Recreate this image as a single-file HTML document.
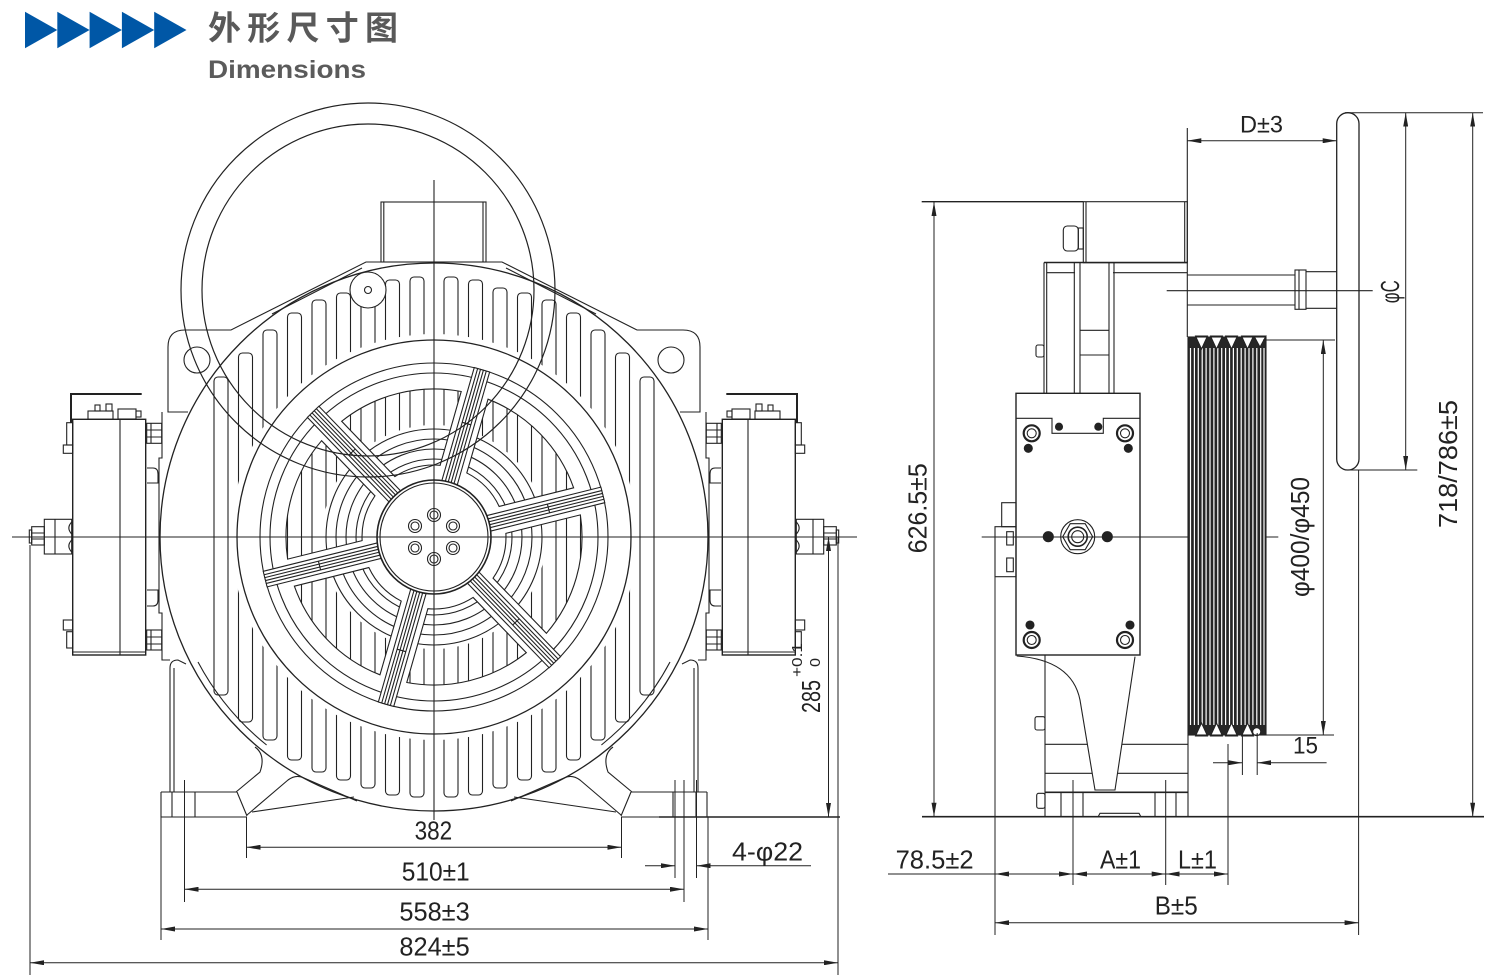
<!DOCTYPE html>
<html><head><meta charset="utf-8"><style>html,body{margin:0;padding:0;background:#fff}svg{display:block}</style></head>
<body>
<svg width="1491" height="977" viewBox="0 0 1491 977" xmlns="http://www.w3.org/2000/svg" xmlns:xlink="http://www.w3.org/1999/xlink">
<defs>
<marker id="ar" viewBox="0 0 14 5" refX="14" refY="2.5" markerWidth="14" markerHeight="5" markerUnits="userSpaceOnUse" orient="auto-start-reverse"><path d="M0,0 L14,2.5 L0,5 Z" fill="#222"/></marker>
<path id="win" d="M68.1,-23.3 L134.6,-61.6 A148,148 0 0 1 134.6,61.6 L68.1,23.3 A72,72 0 0 0 68.1,-23.3 Z"/>
<g id="spoke"><rect x="56" y="-8" width="118" height="16" fill="#fff"/><path d="M56,-4.5 H174 M56,-1.5 H174 M56,1.5 H174 M56,4.5 H174 M118,-4.5 V4.5" fill="none"/></g>
<mask id="wm">
<rect x="0" y="0" width="1491" height="977" fill="#000"/>
<circle cx="434" cy="537" r="203" fill="#fff"/>
<g fill="#000">
<use xlink:href="#win" transform="translate(434,537) rotate(-44)"/>
<use xlink:href="#win" transform="translate(434,537) rotate(16)"/>
<use xlink:href="#win" transform="translate(434,537) rotate(76)"/>
<use xlink:href="#win" transform="translate(434,537) rotate(136)"/>
<use xlink:href="#win" transform="translate(434,537) rotate(196)"/>
<use xlink:href="#win" transform="translate(434,537) rotate(-104)"/>
</g>
</mask>
<g id="lh" fill="none" stroke="#222" stroke-width="1.1">
<rect x="410" y="277" width="14" height="520" rx="4"/>
<rect x="385.5" y="280" width="14" height="515" rx="4"/>
<rect x="361" y="288" width="14" height="500" rx="4"/>
<rect x="336.5" y="293" width="14" height="487" rx="4"/>
<rect x="312" y="300" width="14" height="472" rx="4"/>
<rect x="287.5" y="313" width="14" height="447" rx="4"/>
<rect x="263" y="330" width="14" height="410" rx="4"/>
<rect x="238.5" y="353" width="14" height="369" rx="4"/>
<rect x="214" y="377" width="14" height="318" rx="4"/>
<path d="M434,262 L366,262 L231,330 L185,330 Q168,330 168,347 L168,412 L188,412"/>
<path d="M362,268 L272,314"/>
<circle cx="197" cy="360" r="13"/>
<path d="M162,412 L162,458 L159,458 L159,613 L162,613 L162,660 L170,660"/>
<path d="M147,468 L153,468 Q158,468 158,474 L158,483 L147,483"/>
<path d="M147,606 L153,606 Q158,606 158,600 L158,590 L147,590"/>
<path d="M170,792 L170,668 Q170,660 178,660 L186,664"/>
<path d="M174,792 L174,668"/>
<path d="M198,662 A267,267 0 0 0 266.6,745"/>
<path d="M255,747 Q266,755 260,772 L236,792"/>
<path d="M161,792 L237,792 M161,792 L161,817 L247,817 M237,792 L247,816"/>
<path d="M172,792 L172,817 M195,792 L195,817"/>
<path d="M247,815 L288,780 Q296,774 304,778 L357,801"/>
<path d="M252,812 L354,797"/>
<rect x="72.7" y="419.3" width="73" height="235.7" stroke-width="1.4"/>
<line x1="120" y1="419.3" x2="120" y2="655"/>
<line x1="72.7" y1="652" x2="145.7" y2="652"/>
<path d="M71,423 L71,394 L141.7,394" stroke-width="2"/>
<rect x="88" y="411" width="25" height="8.3"/>
<rect x="118" y="409" width="18" height="10"/>
<rect x="136" y="411" width="5" height="6"/>
<rect x="95" y="405" width="5" height="6"/>
<rect x="106" y="404" width="6" height="7"/>
<rect x="66.7" y="422.7" width="6" height="22.3"/>
<rect x="63.3" y="445" width="9.4" height="8.3"/>
<rect x="63.3" y="620" width="9.4" height="10"/>
<rect x="66.7" y="631.7" width="6" height="16.3"/>
<rect x="146.7" y="423.3" width="15" height="20"/>
<path d="M151,423.3 V443.3 M146.7,430 H161.7 M146.7,437 H161.7"/>
<rect x="146.7" y="630" width="15" height="20"/>
<path d="M151,630 V650 M146.7,637 H161.7 M146.7,644 H161.7"/>
<rect x="44.3" y="519.3" width="27.4" height="34.7"/>
<line x1="55" y1="519.3" x2="55" y2="554"/>
<path d="M71.7,522 Q66,528 71.7,534 M71.7,540 Q66,546 71.7,552"/>
<rect x="31.7" y="526.7" width="12.6" height="18.3"/>
<path d="M31.7,533 H44.3 M31.7,539 H44.3"/>
<rect x="29.3" y="530" width="2.4" height="13"/>
</g>
</defs>

<!-- header -->
<g fill="#0057a6">
<polygon points="25,11.7 57.3,30 25,48.3"/>
<polygon points="57.3,11.7 89.6,30 57.3,48.3"/>
<polygon points="89.6,11.7 121.9,30 89.6,48.3"/>
<polygon points="121.9,11.7 154.2,30 121.9,48.3"/>
<polygon points="154.2,11.7 186.5,30 154.2,48.3"/>
</g>
<text x="208" y="39.5" font-family="'Liberation Sans','Noto Sans CJK SC',sans-serif" font-size="33" font-weight="bold" fill="#595959" textLength="190" lengthAdjust="spacing">外形尺寸图</text>
<text x="208" y="78" font-family="'Liberation Sans',sans-serif" font-size="25" font-weight="bold" fill="#5b5b5b" textLength="158" lengthAdjust="spacingAndGlyphs">Dimensions</text>

<!-- FRONT VIEW -->
<use xlink:href="#lh"/>
<use xlink:href="#lh" transform="translate(868,0) scale(-1,1)"/>
<g fill="none" stroke="#222" stroke-width="1.1">
<circle cx="434" cy="537" r="274" stroke-width="1.3"/>
<rect x="381" y="202" width="105" height="60" fill="#fff"/>
<path d="M383.8,202 V262 M483,202 V262"/>
<circle cx="434" cy="537" r="112" fill="#fff" stroke="none"/>
<circle cx="434" cy="537" r="78"/>
<circle cx="434" cy="537" r="88"/>
<circle cx="434" cy="537" r="98"/>
<circle cx="434" cy="537" r="108"/>
</g>
<rect x="0" y="0" width="1491" height="977" fill="#fff" mask="url(#wm)"/>
<g fill="none" stroke="#222" stroke-width="1.1">
<use xlink:href="#win" transform="translate(434,537) rotate(-44)"/>
<use xlink:href="#win" transform="translate(434,537) rotate(16)"/>
<use xlink:href="#win" transform="translate(434,537) rotate(76)"/>
<use xlink:href="#win" transform="translate(434,537) rotate(136)"/>
<use xlink:href="#win" transform="translate(434,537) rotate(196)"/>
<use xlink:href="#win" transform="translate(434,537) rotate(-104)"/>
<circle cx="434" cy="537" r="197" stroke-width="1.3"/>
<circle cx="434" cy="537" r="174"/>
<circle cx="434" cy="537" r="164"/>
<use xlink:href="#spoke" transform="translate(434,537) rotate(-74)"/>
<use xlink:href="#spoke" transform="translate(434,537) rotate(-14)"/>
<use xlink:href="#spoke" transform="translate(434,537) rotate(46)"/>
<use xlink:href="#spoke" transform="translate(434,537) rotate(106)"/>
<use xlink:href="#spoke" transform="translate(434,537) rotate(166)"/>
<use xlink:href="#spoke" transform="translate(434,537) rotate(-134)"/>
<circle cx="434" cy="537" r="57" fill="#fff" stroke-width="1.6"/>
<circle cx="434" cy="537" r="54"/>
<g>
<circle cx="434" cy="515" r="6.5"/><circle cx="434" cy="515" r="4"/>
<circle cx="453" cy="526" r="6.5"/><circle cx="453" cy="526" r="4"/>
<circle cx="453" cy="548" r="6.5"/><circle cx="453" cy="548" r="4"/>
<circle cx="434" cy="559" r="6.5"/><circle cx="434" cy="559" r="4"/>
<circle cx="415" cy="548" r="6.5"/><circle cx="415" cy="548" r="4"/>
<circle cx="415" cy="526" r="6.5"/><circle cx="415" cy="526" r="4"/>
</g>
<circle cx="368" cy="290" r="187" stroke-width="1.2"/>
<circle cx="368" cy="290" r="166" stroke-width="1.2"/>
<circle cx="368" cy="290" r="18" fill="#fff"/>
<circle cx="368" cy="290" r="3.5"/>
<!-- centerlines -->
<line x1="12" y1="537" x2="857" y2="537"/>
<line x1="434" y1="180" x2="434" y2="820"/>
</g>

<!-- front dims -->
<g fill="none" stroke="#222" stroke-width="1">
<path d="M246.5,817 V858 M621.5,817 V858"/>
<line x1="246.5" y1="847.3" x2="621.5" y2="847.3" marker-start="url(#ar)" marker-end="url(#ar)"/>
<path d="M184.5,780 V902 M684,780 V902"/>
<line x1="184.5" y1="889.3" x2="684" y2="889.3" marker-start="url(#ar)" marker-end="url(#ar)"/>
<path d="M161,817 V940 M708,817 V940"/>
<line x1="161" y1="929" x2="708" y2="929" marker-start="url(#ar)" marker-end="url(#ar)"/>
<path d="M30,545 V975 M838,537 V975"/>
<line x1="30" y1="962.7" x2="838" y2="962.7" marker-start="url(#ar)" marker-end="url(#ar)"/>
<path d="M675,780 V878 M696.5,780 V878"/>
<line x1="645" y1="865.7" x2="675" y2="865.7" marker-end="url(#ar)"/>
<line x1="811" y1="865.7" x2="696.5" y2="865.7" marker-end="url(#ar)"/>
<line x1="659" y1="817" x2="840" y2="817" stroke-width="1.4"/>
<line x1="828.5" y1="537" x2="828.5" y2="817" marker-start="url(#ar)" marker-end="url(#ar)"/>
</g>
<g font-family="'Liberation Sans Narrow','Liberation Sans',sans-serif" font-size="26" fill="#222">
<text x="414.6" y="839.3" textLength="37.6" lengthAdjust="spacingAndGlyphs">382</text>
<text x="401.7" y="880.7" textLength="68" lengthAdjust="spacingAndGlyphs">510±1</text>
<text x="399.4" y="920.7" textLength="70.3" lengthAdjust="spacingAndGlyphs">558±3</text>
<text x="399.4" y="955.3" textLength="70.3" lengthAdjust="spacingAndGlyphs">824±5</text>
<text x="732" y="860.7" textLength="71" lengthAdjust="spacingAndGlyphs">4-φ22</text>
<text transform="translate(820,713) rotate(-90)" textLength="33" lengthAdjust="spacingAndGlyphs">285</text>
<text transform="translate(802,677) rotate(-90)" font-size="15" textLength="34" lengthAdjust="spacingAndGlyphs">+0.1</text>
<text transform="translate(820,667) rotate(-90)" font-size="15" textLength="9" lengthAdjust="spacingAndGlyphs">0</text>
</g>

<!-- SIDE VIEW -->
<g fill="none" stroke="#222" stroke-width="1.1">
<line x1="921.7" y1="201.7" x2="1083.3" y2="201.7" stroke-width="1.3"/>
<rect x="1083.3" y="201.7" width="104" height="61"/>
<path d="M1086,201.7 V262.3 M1184.7,201.7 V262.3"/>
<rect x="1063.3" y="226" width="15" height="25" rx="4"/>
<rect x="1078.3" y="228" width="5" height="21"/>
<line x1="1044" y1="262.5" x2="1187.3" y2="262.5" stroke-width="1.6"/>
<path d="M1046.7,272.7 H1075 M1113,272.7 H1187.3"/>
<path d="M1044,262.5 V393.3 M1046.7,262.5 V393.3 M1074.3,262.5 V393.3 M1080,262.5 V393.3 M1109,262.5 V393.3 M1114,262.5 V393.3"/>
<path d="M1080,330.3 H1109 M1080,355 H1109"/>
<rect x="1036" y="345" width="8" height="12" rx="2"/>
<line x1="1187.3" y1="128" x2="1187.3" y2="337"/>
<path d="M1187.3,275 H1295 M1187.3,305 H1295"/>
<rect x="1295" y="270" width="11" height="39.3"/>
<line x1="1299" y1="270" x2="1299" y2="309.3"/>
<path d="M1306,271.7 H1336.7 M1306,308.3 H1336.7"/>
<rect x="1336.7" y="112.7" width="22.3" height="357.3" rx="11" stroke-width="1.3"/>
<line x1="1166.7" y1="290.7" x2="1372.7" y2="290.7"/>
<!-- plate -->
<rect x="1016" y="393.3" width="124" height="261.7" stroke-width="1.4" fill="#fff"/>
<path d="M1016,418.3 H1052 V433.3 H1103.3 V418.3 H1140"/>
<rect x="995" y="526.7" width="21" height="50"/>
<rect x="1001.7" y="502.7" width="14.3" height="24"/>
<rect x="1006.7" y="531.7" width="6.6" height="13.3"/>
<rect x="1006.7" y="558" width="6.6" height="13.7"/>
<g stroke-width="2.2">
<circle cx="1031.7" cy="433.3" r="8"/><circle cx="1125" cy="433.3" r="8"/>
<circle cx="1031.7" cy="640" r="8"/><circle cx="1125" cy="640" r="8"/>
</g>
<circle cx="1031.7" cy="433.3" r="4.5"/><circle cx="1125" cy="433.3" r="4.5"/>
<circle cx="1031.7" cy="640" r="4.5"/><circle cx="1125" cy="640" r="4.5"/>
<g fill="#222">
<circle cx="1028.3" cy="448.3" r="4"/><circle cx="1128.3" cy="448.3" r="4"/>
<circle cx="1030" cy="625" r="4"/><circle cx="1130" cy="625" r="4"/>
<circle cx="1059" cy="426.7" r="3.5"/><circle cx="1098.3" cy="426.7" r="3.5"/>
<circle cx="1048.3" cy="536.7" r="5"/><circle cx="1107.3" cy="536.7" r="5"/>
</g>
<circle cx="1077.7" cy="536.7" r="17"/>
<polygon points="1092.7,536.7 1085.2,549.7 1070.2,549.7 1062.7,536.7 1070.2,523.7 1085.2,523.7"/>
<circle cx="1077.7" cy="536.7" r="9.5" stroke-width="1.6"/>
<circle cx="1077.7" cy="536.7" r="6"/>
<!-- lower bracket -->
<path d="M1045,655 V817"/>
<path d="M1016.7,656 Q1072,660 1080,700 L1095,790 H1115 L1135,656.7"/>
<path d="M1045,744.3 H1087.4 M1121.9,744.3 H1188 M1045,773.3 H1092.2 M1117.5,773.3 H1188"/>
<line x1="1045" y1="792.3" x2="1188" y2="792.3" stroke-width="1.6"/>
<path d="M1188,735 V817"/>
<path d="M1061,792 V817 M1083,792 V817 M1155,792 V817 M1176,792 V817"/>
<path d="M1098,817 L1100,813.3 H1139 L1141,817"/>
<rect x="1035" y="716.7" width="10" height="13.3" rx="2"/>
<rect x="1036.7" y="793.3" width="8.3" height="15" rx="2"/>
<line x1="981.7" y1="537" x2="1278.3" y2="537"/>
</g>
<!-- pulley -->
<rect x="1188" y="337" width="78" height="398" fill="#262626"/>
<g stroke="#fff" stroke-width="1.2">
<path d="M1190.5,348 V725 M1194.4,348 V725 M1198.3,348 V725 M1202.2,348 V725 M1206.1,348 V725 M1210,348 V725 M1213.9,348 V725 M1217.8,348 V725 M1221.7,348 V725 M1225.6,348 V725 M1229.5,348 V725 M1233.4,348 V725 M1237.3,348 V725 M1241.2,348 V725 M1245.1,348 V725 M1249,348 V725 M1252.9,348 V725 M1256.8,348 V725 M1260.7,348 V725 M1264,348 V725"/>
</g>
<g fill="#fff" stroke="#222" stroke-width="1">
<polygon points="1195.5,336 1207.5,336 1201.5,349"/>
<polygon points="1210.5,336 1222.5,336 1216.5,349"/>
<polygon points="1225.5,336 1237.5,336 1231.5,349"/>
<polygon points="1241.5,336 1253.5,336 1247.5,349"/>
<polygon points="1254,336 1266,336 1260,347"/>
<polygon points="1195.5,736 1207.5,736 1201.5,723"/>
<polygon points="1210.5,736 1222.5,736 1216.5,723"/>
<polygon points="1225.5,736 1237.5,736 1231.5,723"/>
<polygon points="1241.5,736 1253.5,736 1247.5,723"/>
<circle cx="1256.7" cy="731.7" r="4"/>
</g>
<rect x="1188" y="337" width="78" height="398" fill="none" stroke="#222" stroke-width="1.1"/>

<!-- side dims -->
<g fill="none" stroke="#222" stroke-width="1">
<line x1="922" y1="816.7" x2="1484" y2="816.7" stroke-width="1.6"/>
<line x1="934" y1="202" x2="934" y2="816.7" marker-start="url(#ar)" marker-end="url(#ar)"/>
<line x1="1187.3" y1="140.7" x2="1336.7" y2="140.7" marker-start="url(#ar)" marker-end="url(#ar)"/>
<path d="M1345,112.7 H1483 M1345,470 H1417.3"/>
<line x1="1405.7" y1="112.7" x2="1405.7" y2="470" marker-start="url(#ar)" marker-end="url(#ar)"/>
<line x1="1472.7" y1="112.7" x2="1472.7" y2="816.7" marker-start="url(#ar)" marker-end="url(#ar)"/>
<path d="M1263,340 H1335 M1262,735 H1334"/>
<line x1="1323.3" y1="340" x2="1323.3" y2="735" marker-start="url(#ar)" marker-end="url(#ar)"/>
<path d="M1242.4,733 V775 M1257.2,733 V775"/>
<line x1="1213" y1="762.7" x2="1242.4" y2="762.7" marker-end="url(#ar)"/>
<line x1="1326.6" y1="762.7" x2="1257.2" y2="762.7" marker-end="url(#ar)"/>
<path d="M995,576.7 V935 M1358.6,470 V935 M1073,780 V885 M1165.7,780 V885 M1228,744 V885"/>
<line x1="888" y1="874" x2="995" y2="874"/>
<line x1="995" y1="874" x2="1073" y2="874" marker-start="url(#ar)" marker-end="url(#ar)"/>
<line x1="1073" y1="874" x2="1165.7" y2="874" marker-start="url(#ar)" marker-end="url(#ar)"/>
<line x1="1165.7" y1="874" x2="1228" y2="874" marker-start="url(#ar)" marker-end="url(#ar)"/>
<line x1="995" y1="922.7" x2="1358.6" y2="922.7" marker-start="url(#ar)" marker-end="url(#ar)"/>
</g>
<g font-family="'Liberation Sans Narrow','Liberation Sans',sans-serif" font-size="26" fill="#222">
<text x="1240" y="132.3" font-size="24" textLength="43" lengthAdjust="spacingAndGlyphs">D±3</text>
<text x="895.6" y="868.3" textLength="78" lengthAdjust="spacingAndGlyphs">78.5±2</text>
<text x="1100" y="868.3" textLength="41" lengthAdjust="spacingAndGlyphs">A±1</text>
<text x="1178" y="868.3" textLength="39" lengthAdjust="spacingAndGlyphs">L±1</text>
<text x="1154.7" y="914.3" textLength="43" lengthAdjust="spacingAndGlyphs">B±5</text>
<text x="1293" y="753.3" font-size="24" textLength="25" lengthAdjust="spacingAndGlyphs">15</text>
<text transform="translate(926.7,553.3) rotate(-90)" textLength="90" lengthAdjust="spacingAndGlyphs">626.5±5</text>
<text transform="translate(1309,597) rotate(-90)" textLength="120" lengthAdjust="spacingAndGlyphs">φ400/φ450</text>
<text transform="translate(1399,303.3) rotate(-90)" textLength="23" lengthAdjust="spacingAndGlyphs">φC</text>
<text transform="translate(1457,528) rotate(-90)" textLength="128" lengthAdjust="spacingAndGlyphs">718/786±5</text>
</g>
</svg>
</body></html>
